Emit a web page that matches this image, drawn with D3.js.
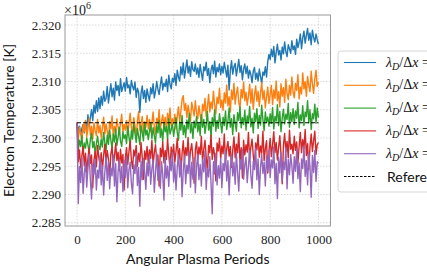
<!DOCTYPE html>
<html>
<head>
<meta charset="utf-8">
<script src="https://cdn.jsdelivr.net/npm/d3@7/dist/d3.min.js"></script>
<style>
  body { margin: 0; background: #fff; }
  svg { display: block; }
</style>
</head>
<body>
<svg id="chart"></svg>
<script>
// x grid of the runs (angular plasma periods, every 5th sample)
var periods = d3.range(0, 1001, 5);

// temperatures in units of 1e6 K
var tempA = [
  2.3027,2.3012,2.3021,2.3006,2.3017,2.3024,2.3009,2.3030,2.3015,2.3041,2.3022,2.3036,2.3050,2.3031,2.3058,2.3044,2.3066,2.3047,2.3071,2.3052,
  2.3074,2.3058,2.3083,2.3065,2.3070,2.3091,2.3062,2.3080,2.3096,2.3073,2.3088,2.3067,2.3099,2.3084,2.3093,2.3075,2.3105,2.3082,2.3090,2.3098,
  2.3083,2.3107,2.3089,2.3094,2.3078,2.3102,2.3091,2.3085,2.3099,2.3072,2.3088,2.3081,2.3045,2.3079,2.3092,2.3070,2.3084,2.3063,2.3087,2.3075,
  2.3066,2.3089,2.3078,2.3096,2.3071,2.3083,2.3100,2.3086,2.3077,2.3094,2.3108,2.3085,2.3097,2.3091,2.3104,2.3082,2.3111,2.3095,2.3087,2.3106,
  2.3099,2.3114,2.3093,2.3120,2.3108,2.3101,2.3126,2.3112,2.3133,2.3106,2.3122,2.3138,2.3115,2.3127,2.3109,2.3135,2.3121,2.3118,2.3131,2.3113,
  2.3124,2.3107,2.3130,2.3115,2.3102,2.3126,2.3119,2.3134,2.3111,2.3123,2.3098,2.3120,2.3129,2.3114,2.3136,2.3108,2.3125,2.3117,2.3131,2.3112,
  2.3127,2.3115,2.3134,2.3121,2.3108,2.3129,2.3085,2.3119,2.3137,2.3113,2.3126,2.3132,2.3110,2.3124,2.3139,2.3116,2.3128,2.3103,2.3122,2.3131,
  2.3114,2.3127,2.3106,2.3120,2.3112,2.3098,2.3118,2.3125,2.3104,2.3115,2.3101,2.3122,2.3109,2.3096,2.3117,2.3111,2.3126,2.3108,2.3135,2.3148,
  2.3139,2.3157,2.3144,2.3162,2.3133,2.3151,2.3166,2.3147,2.3155,2.3138,2.3161,2.3149,2.3170,2.3153,2.3144,2.3165,2.3158,2.3150,2.3172,2.3156,
  2.3163,2.3148,2.3175,2.3160,2.3169,2.3184,2.3158,2.3177,2.3189,2.3168,2.3181,2.3194,2.3173,2.3186,2.3165,2.3191,2.3178,2.3170,2.3184,2.3174,
  2.3166
];
var tempB = [
  2.3027,2.2996,2.3019,2.3008,2.2993,2.3024,2.3011,2.3031,2.3002,2.3016,2.3035,2.3005,2.3021,2.2998,2.3027,2.3013,2.3004,2.3033,2.3009,2.3022,
  2.3000,2.3018,2.3037,2.3007,2.3025,2.3012,2.2997,2.3029,2.3016,2.3039,2.3003,2.3021,2.3010,2.3034,2.3019,2.3006,2.3027,2.3042,2.3011,2.3024,
  2.3014,2.3031,2.3005,2.3026,2.3044,2.3017,2.3009,2.3036,2.3022,2.3001,2.3030,2.3047,2.3013,2.3025,2.3038,2.3008,2.3028,2.3019,2.3040,2.3016,
  2.3033,2.3011,2.3026,2.3046,2.3020,2.3007,2.3035,2.3024,2.3050,2.3015,2.3030,2.3041,2.3018,2.3037,2.3012,2.3044,2.3027,2.3053,2.3021,2.3034,
  2.3025,2.3042,2.3016,2.3038,2.3055,2.3029,2.3047,2.3068,2.3075,2.3049,2.3061,2.3036,2.3058,2.3044,2.3030,2.3063,2.3051,2.3039,2.3066,2.3045,
  2.3034,2.3057,2.3041,2.3026,2.3060,2.3048,2.3070,2.3038,2.3055,2.3077,2.3046,2.3064,2.3052,2.3083,2.3058,2.3043,2.3072,2.3061,2.3088,2.3054,
  2.3067,2.3049,2.3080,2.3062,2.3094,2.3057,2.3073,2.3046,2.3085,2.3068,2.3097,2.3060,2.3078,2.3090,2.3063,2.3052,2.3086,2.3071,2.3099,2.3066,
  2.3081,2.3058,2.3074,2.3095,2.3062,2.3087,2.3051,2.3076,2.3092,2.3065,2.3083,2.3056,2.3079,2.3098,2.3068,2.3084,2.3053,2.3073,2.3090,2.3061,
  2.3077,2.3093,2.3059,2.3085,2.3070,2.3101,2.3066,2.3082,2.3055,2.3096,2.3074,2.3089,2.3063,2.3104,2.3079,2.3068,2.3093,2.3076,2.3108,2.3081,
  2.3071,2.3097,2.3084,2.3112,2.3069,2.3090,2.3078,2.3115,2.3087,2.3100,2.3074,2.3109,2.3093,2.3082,2.3118,2.3096,2.3079,2.3105,2.3120,2.3091,
  2.3099
];
var tempC = [
  2.3027,2.2978,2.2996,2.2985,2.3004,2.2972,2.2991,2.2982,2.3000,2.2988,2.2975,2.2997,2.3008,2.2983,2.2994,2.2970,2.2990,2.3003,2.2986,2.2979,
  2.2998,2.2984,2.3010,2.2992,2.2977,2.3005,2.2989,2.3014,2.2996,2.2981,2.3007,2.2993,2.3016,2.2987,2.3001,2.3019,2.2994,2.2985,2.3011,2.2999,
  2.3006,2.2990,2.3021,2.3002,2.2986,2.3013,2.2998,2.3025,2.3008,2.2992,2.3017,2.3003,2.2988,2.3022,2.3010,2.2995,2.3028,2.3005,2.3014,2.2997,
  2.3012,2.3026,2.2999,2.3018,2.3004,2.2991,2.3023,2.3009,2.3031,2.3001,2.3016,2.2994,2.3027,2.3011,2.3020,2.2997,2.3034,2.3007,2.3015,2.3025,
  2.3003,2.3019,2.3036,2.3010,2.2996,2.3028,2.3014,2.3040,2.3006,2.3022,2.3001,2.3032,2.3016,2.3044,2.3009,2.3025,2.2999,2.3030,2.3018,2.3038,
  2.3011,2.3027,2.3004,2.3041,2.3019,2.3033,2.3008,2.3024,2.3047,2.3014,2.3029,2.3002,2.3036,2.3021,2.3050,2.3012,2.3031,2.3017,2.3043,2.3025,
  2.3009,2.3037,2.3022,2.3048,2.3015,2.3030,2.3053,2.3019,2.3034,2.3006,2.3041,2.3026,2.3012,2.3045,2.3031,2.3055,2.3018,2.3036,2.3024,2.3049,
  2.3014,2.3039,2.3027,2.3056,2.3020,2.3035,2.3009,2.3044,2.3029,2.3052,2.3017,2.3040,2.3023,2.3058,2.3032,2.3013,2.3046,2.3028,2.3037,2.3021,
  2.3043,2.3026,2.3054,2.3016,2.3038,2.3030,2.3059,2.3022,2.3047,2.3011,2.3035,2.3051,2.3025,2.3042,2.3033,2.3061,2.3019,2.3045,2.3029,2.3052,
  2.3024,2.3048,2.3035,2.3063,2.3018,2.3041,2.3031,2.3057,2.3022,2.3046,2.3038,2.3066,2.3027,2.3050,2.3015,2.3043,2.3034,2.3060,2.3026,2.3053,
  2.3036
];
var tempD = [
  2.3027,2.2958,2.2979,2.2947,2.2968,2.2985,2.2951,2.2973,2.2939,2.2964,2.2982,2.2955,2.2970,2.2912,2.2961,2.2976,2.2949,2.2987,2.2966,2.2953,
  2.2974,2.2944,2.2969,2.2989,2.2957,2.2978,2.2962,2.2931,2.2972,2.2984,2.2951,2.2967,2.2991,2.2960,2.2975,2.2942,2.2980,2.2956,2.2971,2.2908,
  2.2965,2.2983,2.2953,2.2976,2.2994,2.2961,2.2946,2.2979,2.2968,2.2987,2.2950,2.2973,2.2958,2.2992,2.2966,2.2927,2.2977,2.2962,2.2985,2.2955,
  2.2979,2.2964,2.2996,2.2951,2.2974,2.2988,2.2959,2.2970,2.2915,2.2982,2.2967,2.2993,2.2956,2.2978,2.2962,2.2998,2.2971,2.2945,2.2984,2.2966,
  2.2989,2.2957,2.2976,2.2999,2.2963,2.2981,2.2936,2.2972,2.2995,2.2960,2.2983,2.2969,2.3001,2.2954,2.2977,2.2990,2.2965,2.2920,2.2979,2.2993,
  2.2961,2.2984,2.2971,2.3003,2.2958,2.2980,2.2996,2.2966,2.2941,2.2987,2.2974,2.3005,2.2962,2.2983,2.2970,2.2924,2.2991,2.2977,2.2999,2.2964,
  2.2986,2.2972,2.3007,2.2960,2.2981,2.2994,2.2968,2.2985,2.2948,2.2978,2.3002,2.2965,2.2989,2.2974,2.3009,2.2957,2.2983,2.2929,2.2996,2.2970,
  2.2988,2.2975,2.3010,2.2963,2.2984,2.2998,2.2969,2.2950,2.2991,2.2979,2.3006,2.2966,2.2986,2.2973,2.3012,2.2960,2.2981,2.2995,2.2938,2.2977,
  2.2999,2.2967,2.2988,2.3011,2.2974,2.2992,2.2961,2.2983,2.3004,2.2970,2.2919,2.2987,2.3008,2.2976,2.2994,2.2965,2.3014,2.2980,2.2989,2.2972,
  2.3003,2.2978,2.2993,2.2956,2.2985,2.3010,2.2974,2.2997,2.2981,2.3015,2.2969,2.2990,2.2944,2.2984,2.3007,2.2976,2.2995,2.3012,2.2971,2.2988,
  2.2992
];
var tempE = [
  2.3027,2.2884,2.2949,2.2921,2.2965,2.2902,2.2938,2.2957,2.2913,2.2946,2.2971,2.2927,2.2892,2.2954,2.2935,2.2962,2.2908,2.2943,2.2929,2.2968,
  2.2917,2.2951,2.2899,2.2939,2.2966,2.2925,2.2958,2.2910,2.2947,2.2933,2.2970,2.2915,2.2955,2.2887,2.2941,2.2962,2.2921,2.2949,2.2905,2.2960,
  2.2930,2.2967,2.2912,2.2944,2.2957,2.2920,2.2901,2.2953,2.2937,2.2972,2.2916,2.2948,2.2879,2.2959,2.2926,2.2964,2.2940,2.2909,2.2956,2.2933,
  2.2969,2.2918,2.2946,2.2961,2.2904,2.2939,2.2973,2.2925,2.2952,2.2911,2.2958,2.2935,2.2890,2.2966,2.2929,2.2950,2.2914,2.2963,2.2942,2.2975,
  2.2922,2.2955,2.2908,2.2947,2.2970,2.2931,2.2960,2.2896,2.2943,2.2968,2.2919,2.2952,2.2937,2.2974,2.2913,2.2957,2.2927,2.2965,2.2903,2.2949,
  2.2971,2.2926,2.2953,2.2915,2.2962,2.2940,2.2976,2.2909,2.2946,2.2931,2.2967,2.2920,2.2866,2.2958,2.2936,2.2973,2.2917,2.2951,2.2929,2.2964,
  2.2912,2.2955,2.2942,2.2977,2.2924,2.2960,2.2899,2.2948,2.2969,2.2933,2.2957,2.2918,2.2974,2.2939,2.2906,2.2962,2.2945,2.2980,2.2927,2.2953,
  2.2966,2.2921,2.2950,2.2978,2.2934,2.2911,2.2959,2.2944,2.2982,2.2926,2.2963,2.2900,2.2948,2.2971,2.2937,2.2957,2.2915,2.2968,2.2941,2.2979,
  2.2930,2.2961,2.2947,2.2984,2.2919,2.2955,2.2893,2.2966,2.2938,2.2975,2.2924,2.2958,2.2944,2.2983,2.2910,2.2962,2.2935,2.2971,2.2951,2.2920,
  2.2967,2.2941,2.2981,2.2928,2.2956,2.2905,2.2963,2.2946,2.2986,2.2932,2.2960,2.2917,2.2974,2.2949,2.2895,2.2969,2.2939,2.2978,2.2923,2.2958,
  2.2955
];
var referenceTemp = 2.3027;

var seriesValues = [tempA, tempB, tempC, tempD, tempE];
var seriesRatio = ['1', '0.5', '0.25', '0.125', '0.0625'];
var seriesColors = ['#1f77b4', '#ff7f0e', '#2ca02c', '#d62728', '#9467bd'];

var xTicks = [0, 200, 400, 600, 800, 1000];
var yTicks = [2.285, 2.290, 2.295, 2.300, 2.305, 2.310, 2.315, 2.320];

var width = 427,
    height = 272,
    plotLeft = 65, plotRight = 330.5, plotTop = 15, plotBottom = 226;

var serif = "'Liberation Serif', 'DejaVu Serif', serif";
var sans = "Lato, 'Open Sans', sans-serif";

var svg = d3.select('#chart')
    .attr('width', width)
    .attr('height', height);

var x = d3.scaleLinear().domain([-50, 1050]).range([plotLeft, plotRight]);
var y = d3.scaleLinear().domain([2.28442, 2.32177]).range([plotBottom, plotTop]);

// grid
var grid = svg.append('g').attr('class', 'grid');
grid.selectAll('line.gx')
    .data(xTicks)
    .enter().append('line')
    .attr('x1', x).attr('x2', x)
    .attr('y1', plotTop).attr('y2', plotBottom)
    .attr('stroke', '#cfcfcf')
    .attr('stroke-width', 0.8)
    .attr('stroke-dasharray', '1.5,1.5');
grid.selectAll('line.gy')
    .data(yTicks)
    .enter().append('line')
    .attr('y1', y).attr('y2', y)
    .attr('x1', plotLeft).attr('x2', plotRight)
    .attr('stroke', '#cfcfcf')
    .attr('stroke-width', 0.8)
    .attr('stroke-dasharray', '1.5,1.5');

svg.append('clipPath').attr('id', 'plotclip')
    .append('rect')
    .attr('x', plotLeft).attr('y', plotTop)
    .attr('width', plotRight - plotLeft).attr('height', plotBottom - plotTop);

var line = d3.line()
    .x(function (d, i) { return x(periods[i]); })
    .y(function (d) { return y(d); });

var lines = svg.append('g').attr('clip-path', 'url(#plotclip)');
seriesValues.forEach(function (vals, k) {
    lines.append('path')
        .datum(vals)
        .attr('d', line)
        .attr('fill', 'none')
        .attr('stroke', seriesColors[k])
        .attr('stroke-width', 1.4)
        .attr('stroke-linejoin', 'round');
});

// reference line
lines.append('line')
    .attr('x1', x(0)).attr('x2', x(1000))
    .attr('y1', y(referenceTemp)).attr('y2', y(referenceTemp))
    .attr('stroke', '#000')
    .attr('stroke-width', 1.1)
    .attr('stroke-dasharray', '4,2');

// frame
svg.append('rect')
    .attr('x', plotLeft).attr('y', plotTop)
    .attr('width', plotRight - plotLeft).attr('height', plotBottom - plotTop)
    .attr('fill', 'none')
    .attr('stroke', '#9a9a9a')
    .attr('stroke-width', 1);

// axes
var xAxis = svg.append('g')
    .attr('transform', 'translate(0,' + plotBottom + ')')
    .call(d3.axisBottom(x).tickValues(xTicks).tickSize(0).tickPadding(9).tickFormat(d3.format('d')));
var yAxis = svg.append('g')
    .attr('transform', 'translate(' + plotLeft + ',0)')
    .call(d3.axisLeft(y).tickValues(yTicks).tickSize(0).tickPadding(4).tickFormat(d3.format('.3f')));
[xAxis, yAxis].forEach(function (a) {
    a.select('.domain').remove();
    a.selectAll('text')
        .attr('fill', '#222')
        .style('font-family', serif)
        .style('font-size', '13px');
});

// offset text
var off = svg.append('text')
    .attr('x', 64).attr('y', 15)
    .attr('fill', '#222')
    .style('font-family', serif)
    .style('font-size', '14px')
    .text('×10');
off.append('tspan').attr('dy', -6).style('font-size', '10px').text('6');

// axis labels
svg.append('text')
    .attr('x', (plotLeft + plotRight) / 2).attr('y', 264)
    .attr('text-anchor', 'middle')
    .attr('fill', '#111')
    .style('font-family', sans)
    .style('font-size', '14px')
    .text('Angular Plasma Periods');
svg.append('text')
    .attr('transform', 'translate(14,' + (plotTop + plotBottom) / 2 + ') rotate(-90)')
    .attr('text-anchor', 'middle')
    .attr('fill', '#111')
    .style('font-family', sans)
    .style('font-size', '14px')
    .text('Electron Temperature [K]');

// legend
var legend = svg.append('g');
legend.append('rect')
    .attr('x', 338).attr('y', 51)
    .attr('width', 120).attr('height', 141)
    .attr('rx', 3)
    .attr('fill', '#fff')
    .attr('fill-opacity', 0.85)
    .attr('stroke', '#d6d6d6');

var legendRows = seriesRatio.map(function (r, i) {
    return { ratio: r, color: seriesColors[i], dash: null };
});
legendRows.push({ ratio: null, color: '#000', dash: '2.5,1.5' });

var row = legend.selectAll('g.row')
    .data(legendRows)
    .enter().append('g')
    .attr('transform', function (d, i) { return 'translate(0,' + (62.5 + i * 22.8) + ')'; });
row.append('line')
    .attr('x1', 344).attr('x2', 376)
    .attr('stroke', function (d) { return d.color; })
    .attr('stroke-width', 1.1)
    .attr('stroke-dasharray', function (d) { return d.dash; });
row.each(function (d) {
    var g = d3.select(this);
    if (d.ratio === null) {
        g.append('text')
            .attr('x', 387).attr('y', 5)
            .attr('fill', '#111')
            .style('font-family', sans)
            .style('font-size', '14px')
            .text('Reference');
        return;
    }
    var t = g.append('text')
        .attr('x', 386).attr('y', 4)
        .attr('fill', '#111')
        .style('font-family', serif)
        .style('font-size', '14px');
    t.append('tspan').style('font-style', 'italic').text('λ');
    t.append('tspan').attr('dy', 3).style('font-size', '10px').style('font-style', 'italic').text('D');
    t.append('tspan').attr('dy', -3).text('/Δ');
    t.append('tspan').style('font-style', 'italic').text('x');
    t.append('tspan').text(' = ' + d.ratio);
});
</script>
</body>
</html>
